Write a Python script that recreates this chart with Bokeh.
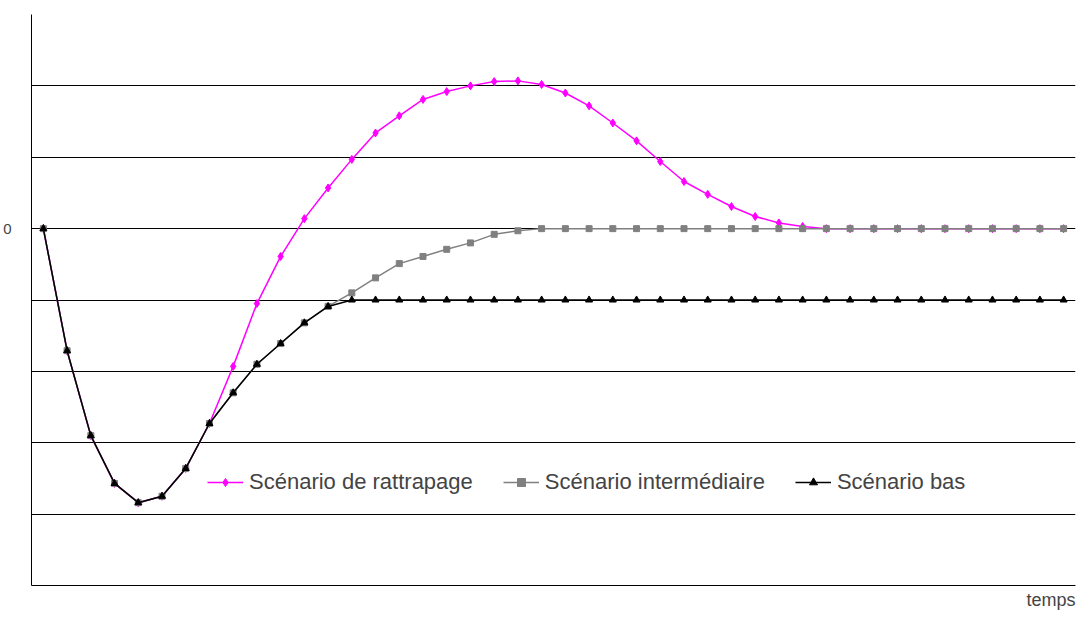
from bokeh.plotting import figure
from bokeh.models import Title, FixedTicker, Legend, LegendItem
from bokeh.embed import file_html
from bokeh.resources import INLINE

steps = list(range(44))
common = [0, -1.71, -2.9, -3.57, -3.84, -3.75, -3.36, -2.73]
rattrapage = common + [-1.93, -1.05, -0.39, 0.14, 0.57, 0.97, 1.34, 1.58, 1.81, 1.92, 2.0,
                       2.06, 2.07, 2.02, 1.9, 1.72, 1.48, 1.23, 0.94, 0.66, 0.48, 0.31,
                       0.17, 0.08, 0.03] + [0] * 11
intermediaire = common + [-2.3, -1.9, -1.61, -1.32, -1.09, -0.9, -0.69, -0.49, -0.39,
                          -0.29, -0.2, -0.08, -0.03] + [0] * 23
bas = common + [-2.3, -1.9, -1.61, -1.32, -1.09, -1.0] + [-1.0] * 30

FONT = "Liberation Sans"

p = figure(frame_width=1044, frame_height=571, x_range=(-0.5, 43.5), y_range=(-5, 3),
           output_backend="svg", toolbar_location=None,
           min_border_left=30, min_border_top=14, min_border_bottom=30, min_border_right=4)
p.outline_line_color = None
p.xgrid.visible = False
p.ygrid.ticker = FixedTicker(ticks=[-5, -4, -3, -2, -1, 0, 1, 2, 3])
p.ygrid.grid_line_color = "black"
p.ygrid.grid_line_width = 1

p.yaxis.ticker = FixedTicker(ticks=[0])
p.yaxis.major_tick_line_color = None
p.yaxis.minor_tick_line_color = None
p.yaxis.axis_line_color = "black"
p.yaxis.major_label_text_font = FONT
p.yaxis.major_label_text_font_size = "15px"
p.yaxis.major_label_standoff = 14

p.xaxis.ticker = FixedTicker(ticks=[])
p.xaxis.major_tick_line_color = None
p.xaxis.minor_tick_line_color = None
p.xaxis.axis_line_color = "black"
p.xaxis.major_label_text_font_size = "0px"

l1 = p.line(steps, rattrapage, line_color="#FF00FF", line_width=1.5)
m1 = p.scatter(steps, rattrapage, marker="diamond", size=8, color="#FF00FF")
l2 = p.line(steps, intermediaire, line_color="#808080", line_width=1.5)
m2 = p.scatter(steps, intermediaire, marker="square", size=6, color="#808080")
l3 = p.line(steps, bas, line_color="black", line_width=1.5)
m3 = p.scatter(steps, bas, marker="triangle", size=7, color="black")

legend = Legend(items=[
    LegendItem(label="Scénario de rattrapage", renderers=[l1, m1]),
    LegendItem(label="Scénario intermédiaire", renderers=[l2, m2]),
    LegendItem(label="Scénario bas", renderers=[l3, m3]),
], orientation="horizontal", location=(176, 90), border_line_color=None,
    background_fill_alpha=0, label_text_font=FONT, label_text_font_size="22px",
    glyph_width=36, spacing=30, padding=4, label_standoff=6)
p.add_layout(legend, "center")

p.add_layout(Title(text="temps", align="right", text_font=FONT, text_font_size="18px",
                   text_font_style="normal", standoff=4), "below")

open("out.html", "w").write(file_html(p, INLINE))
